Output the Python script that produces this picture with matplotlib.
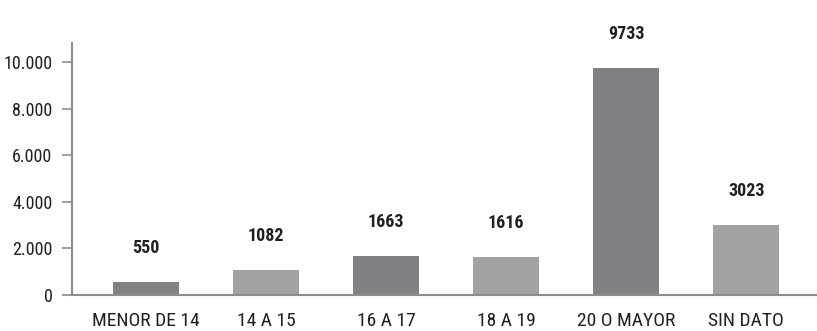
import matplotlib
matplotlib.use("Agg")
import matplotlib.pyplot as plt
import numpy as np

categories = ["MENOR DE 14", "14 A 15", "16 A 17", "18 A 19", "20 O MAYOR", "SIN DATO"]
values = [550, 1082, 1663, 1616, 9733, 3023]
yticks = [0, 2000, 4000, 6000, 8000, 10000]
ytick_labels = ["0", "2.000", "4.000", "6.000", "8.000", "10.000"]

DARK = "#808185"
LIGHT = "#a1a2a4"
AXIS = "#8c8c8c"
TEXT = "#231f20"

plt.rcParams["font.family"] = ["Roboto Condensed", "DejaVu Sans"]

fig = plt.figure(figsize=(8.17, 3.31), dpi=100)
ax = fig.add_axes([72 / 817, 36 / 331, 1 - 72 / 817, (295 - 43) / 331])

x = np.arange(len(categories))
colors = [DARK if i % 2 == 0 else LIGHT for i in range(len(categories))]
bars = ax.bar(x, values, width=0.55, color=colors, zorder=2)

for bar, v in zip(bars, values):
    ax.annotate(str(v), (bar.get_x() + bar.get_width() / 2, v),
                xytext=(0, 18), textcoords="offset points",
                ha="center", va="bottom", fontsize=13, fontweight="bold",
                color=TEXT)

ax.set_xlim(-0.617, 5.59)
ax.set_ylim(0, 10815)
ax.set_xticks(x)
ax.set_xticklabels(categories, fontsize=14, color=TEXT)
ax.set_yticks(yticks)
ax.set_yticklabels(ytick_labels, fontsize=13, color=TEXT)

ax.tick_params(axis="x", length=0, pad=12)
ax.tick_params(axis="y", length=7, width=1.2, color=AXIS, pad=7)

for side in ("top", "right"):
    ax.spines[side].set_visible(False)
for side in ("left", "bottom"):
    ax.spines[side].set_color(AXIS)
    ax.spines[side].set_linewidth(1.5)

fig.savefig("out.png", dpi=100)
